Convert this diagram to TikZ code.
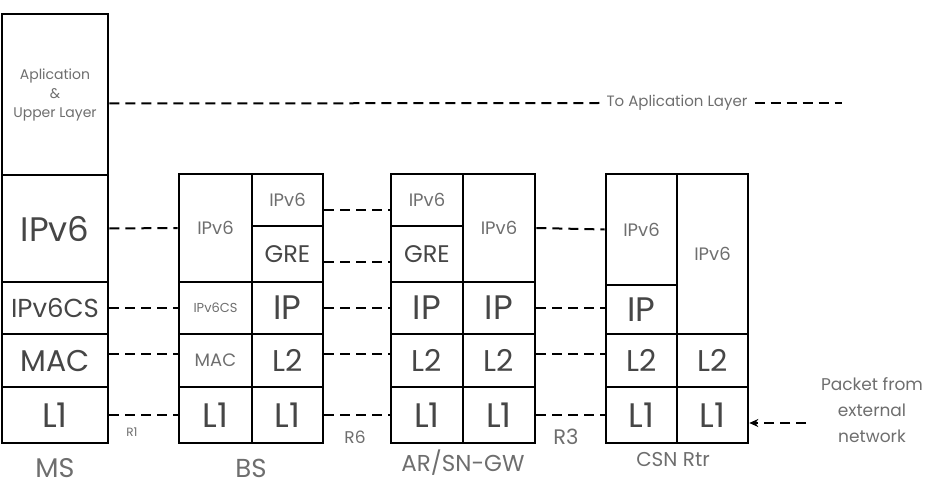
\documentclass[tikz,border=0pt]{standalone}
\usepackage{fontspec}
\setmainfont{Poppins}
\usetikzlibrary{arrows.meta, positioning, calc}
\definecolor{txtgray}{RGB}{70,70,70}
\definecolor{lblgray}{RGB}{110,110,110}

\begin{document}
\begin{tikzpicture}[x=1pt, y=-1pt,
    cell/.style={draw, line width=2.6pt, inner sep=0pt, text=txtgray},
    fhuge/.style={font=\fontsize{34}{34}\selectfont},
    fbig/.style={font=\fontsize{30}{30}\selectfont},
    fmid/.style={font=\fontsize{24}{24}\selectfont},
    fsml/.style={font=\fontsize{18}{18}\selectfont, text=lblgray},
    ftiny/.style={font=\fontsize{13}{13}\selectfont, text=lblgray},
    lbl/.style={text=lblgray, inner sep=0pt},
    link/.style={line width=2pt, dash pattern=on 10pt off 6pt}
  ]
    \useasboundingbox (0,0) rectangle (932,492);
    % MS
    \node[cell, minimum width=106, minimum height=161, align=center,
      font=\fontsize{14}{19}\selectfont, text=lblgray] (msapp) at (55,94.5) {Aplication\\\&\\Upper Layer};
    \node[cell, fhuge, minimum width=106, minimum height=107] (msv6) at (55,228.5) {IPv6};
    \node[cell, font=\fontsize{26}{26}\selectfont, minimum width=106, minimum height=52] (mscs) at (55,308) {IPv6CS};
    \node[cell, fbig, minimum width=106, minimum height=53] (msmac) at (55,360.5) {MAC};
    \node[cell, fhuge, minimum width=106, minimum height=56] (msl1) at (55,415) {L1};
    % BS
    \node[cell, fsml, minimum width=73, minimum height=108] (bsv6) at (215.5,228) {IPv6};
    \node[cell, ftiny, minimum width=73, minimum height=52] (bscs) at (215.5,308) {IPv6CS};
    \node[cell, fsml, minimum width=73, minimum height=53] (bsmac) at (215.5,360.5) {MAC};
    \node[cell, fhuge, minimum width=73, minimum height=56] (bsl1) at (215.5,415) {L1};
    \node[cell, fsml, minimum width=71, minimum height=52] (bsv6r) at (287.5,200) {IPv6};
    \node[cell, fmid, minimum width=71, minimum height=56] (bsgre) at (287.5,254) {GRE};
    \node[cell, fhuge, minimum width=71, minimum height=52] (bsip) at (287.5,308) {IP};
    \node[cell, fbig, minimum width=71, minimum height=53] (bsl2) at (287.5,360.5) {L2};
    \node[cell, fhuge, minimum width=71, minimum height=56] (bsl1r) at (287.5,415) {L1};
    % AR/SN-GW
    \node[cell, fsml, minimum width=72, minimum height=52] (arv6) at (427,200) {IPv6};
    \node[cell, fmid, minimum width=72, minimum height=56] (argre) at (427,254) {GRE};
    \node[cell, fhuge, minimum width=72, minimum height=52] (arip) at (427,308) {IP};
    \node[cell, fbig, minimum width=72, minimum height=53] (arl2) at (427,360.5) {L2};
    \node[cell, fhuge, minimum width=72, minimum height=56] (arl1) at (427,415) {L1};
    \node[cell, fsml, minimum width=72, minimum height=108] (arv6r) at (499,228) {IPv6};
    \node[cell, fhuge, minimum width=72, minimum height=52] (aripr) at (499,308) {IP};
    \node[cell, fbig, minimum width=72, minimum height=53] (arl2r) at (499,360.5) {L2};
    \node[cell, fhuge, minimum width=72, minimum height=56] (arl1r) at (499,415) {L1};
    % CSN Rtr
    \node[cell, fsml, minimum width=71, minimum height=111] (csv6) at (641.5,229.5) {IPv6};
    \node[cell, fhuge, minimum width=71, minimum height=49] (csip) at (641.5,309.5) {IP};
    \node[cell, fbig, minimum width=71, minimum height=53] (csl2) at (641.5,360.5) {L2};
    \node[cell, fhuge, minimum width=71, minimum height=56] (csl1) at (641.5,415) {L1};
    \node[cell, fsml, minimum width=71, minimum height=160] (csv6r) at (712.5,254) {IPv6};
    \node[cell, fbig, minimum width=71, minimum height=53] (csl2r) at (712.5,360.5) {L2};
    \node[cell, fhuge, minimum width=71, minimum height=56] (csl1r) at (712.5,415) {L1};
    % labels
    \node[lbl, inner xsep=7pt, font=\fontsize{15}{15}\selectfont] (toapp) at (677,103) {To Aplication Layer};
    \coordinate (append) at (842,103);
    \node[lbl, align=center, font=\fontsize{17}{26}\selectfont] (pkt) at (872,410) {Packet from\\external\\network};
    \coordinate (ext) at (806,423);
    \node[lbl, font=\fontsize{27}{27}\selectfont] (msname) at (55,468) {MS};
    \node[lbl, font=\fontsize{26}{26}\selectfont] (bsname) at (251,468) {BS};
    \node[lbl, font=\fontsize{23}{23}\selectfont] (arname) at (463,463) {AR/SN-GW};
    \node[lbl, font=\fontsize{20}{20}\selectfont] (csname) at (673,460) {CSN Rtr};
    \node[lbl, font=\fontsize{12}{12}\selectfont] (rone) at (132,432) {R1};
    \node[lbl, font=\fontsize{17}{17}\selectfont] (rsix) at (355,437) {R6};
    \node[lbl, font=\fontsize{21}{21}\selectfont] (rthree) at (566,437) {R3};
    % MS -- BS
    \draw[link] ([yshift=-9pt]msapp.east) -- (toapp.west);
    \draw[link] (toapp.east) -- (append);
    \draw[link] (msv6.east) -- (bsv6.west);
    \draw[link] (mscs.east) -- (bscs.west);
    \draw[link] ([yshift=7pt]msmac.east) -- ([yshift=7pt]bsmac.west);
    \draw[link] (msl1.east) -- (bsl1.west);
    % BS -- AR/SN-GW
    \draw[link] ([yshift=-10pt]bsv6r.east) -- ([yshift=-10pt]arv6.west);
    \draw[link] ([yshift=-8pt]bsgre.east) -- ([yshift=-8pt]argre.west);
    \draw[link] (bsip.east) -- (arip.west);
    \draw[link] ([yshift=7pt]bsl2.east) -- ([yshift=7pt]arl2.west);
    \draw[link] (bsl1r.east) -- (arl1.west);
    % AR/SN-GW -- CSN Rtr
    \draw[link] (arv6r.east) -- (csv6.west);
    \draw[link] (aripr.east) -- ([yshift=1.5pt]csip.west);
    \draw[link] ([yshift=7pt]arl2r.east) -- ([yshift=7pt]csl2.west);
    \draw[link] (arl1r.east) -- (csl1.west);
    \draw[link, -{Stealth[length=9pt, width=8pt]}] (ext) -- ([yshift=-8pt]csl1r.east);
  \end{tikzpicture}
\end{document}
